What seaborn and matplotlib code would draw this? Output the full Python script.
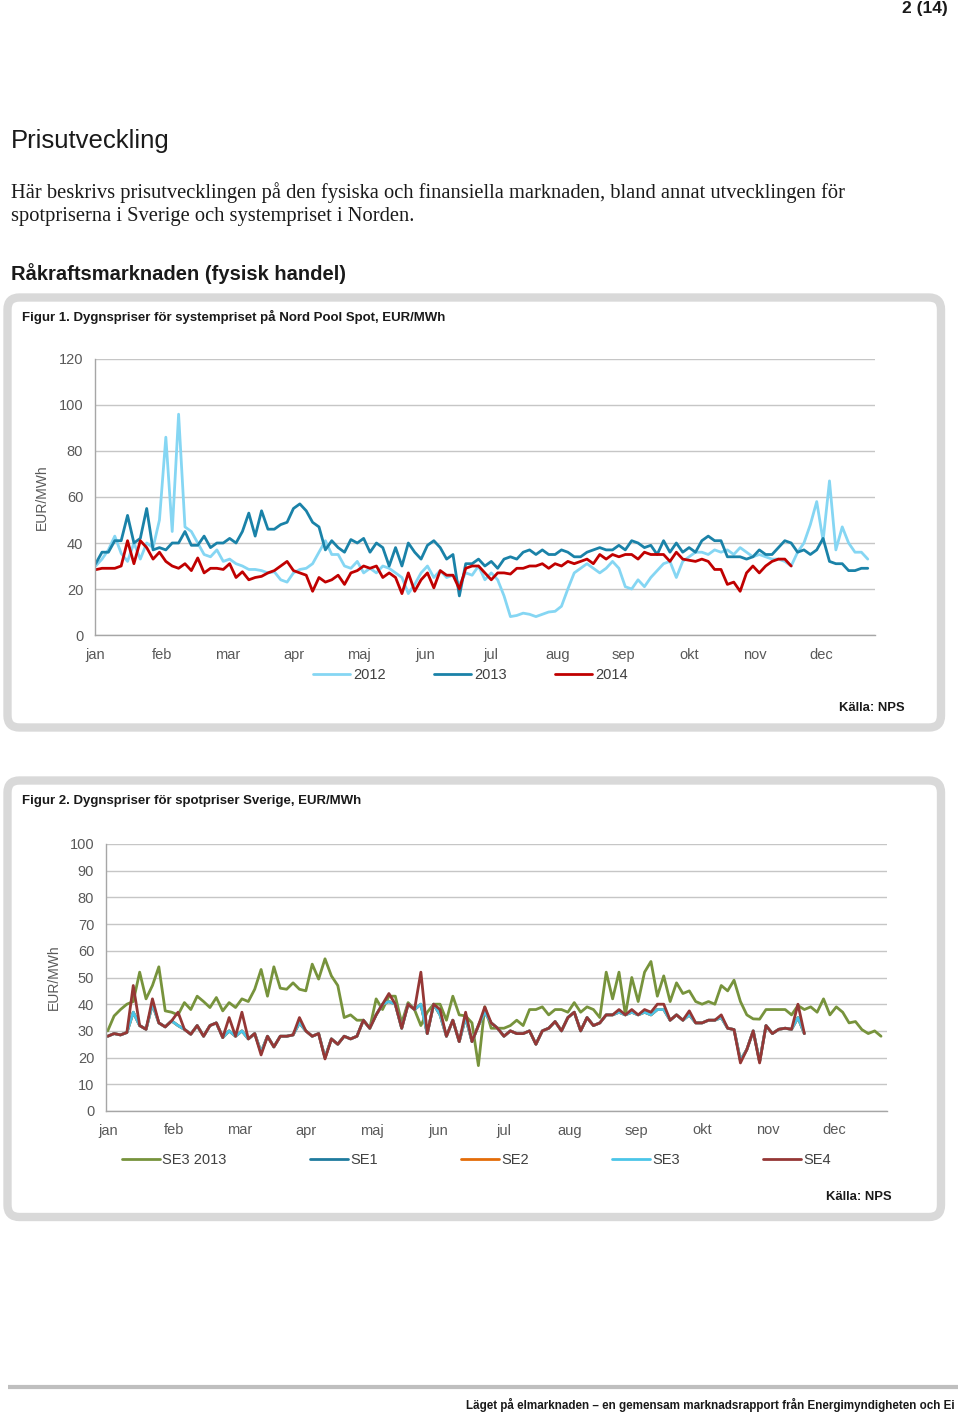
import numpy as np
import pandas as pd
import matplotlib
matplotlib.use("Agg")
import matplotlib.pyplot as plt
from matplotlib.patches import FancyBboxPatch
import seaborn as sns

sns.set_style("white")
plt.rcParams['font.family'] = ['Liberation Sans', 'DejaVu Sans']

# ---------------- data ----------------
MONTHS = ['jan', 'feb', 'mar', 'apr', 'maj', 'jun', 'jul', 'aug', 'sep', 'okt', 'nov', 'dec']
MONTH_DAYS = [0, 31, 62, 93, 124, 155, 186, 217, 248, 279, 310, 341]
STEP = 3  # one reading every third day

# Figur 1: system price, EUR/MWh
sys_2012 = [30, 33, 37, 43, 35.5, 32, 40, 33, 40, 38, 50, 86, 45, 96, 47, 45, 40, 35, 34, 37,
            32, 33, 31, 30, 28.5, 28.5, 28, 27, 27.5, 24, 23, 27, 28.5, 29, 31, 36, 41, 35, 35, 30,
            29, 32, 27, 29, 27, 30, 29, 27, 25, 18, 22, 27, 30, 25, 28, 25, 26, 22, 27, 26,
            30, 24, 27, 24, 17, 8, 8.5, 9.5, 9, 8, 9, 10, 10.3, 12.5, 20, 27, 29, 31, 29, 27,
            29, 32, 29, 21,
            20, 24, 21, 25, 28, 31, 32, 25, 32, 34, 36, 36, 35, 37, 36, 37, 35, 38, 36, 34,
            35, 34, 33, 33, 32, 30, 36, 40, 48, 58, 41, 67, 37, 47, 40, 36, 36, 33]
sys_2013 = [31, 36, 36, 41, 41, 52, 40, 42, 55, 37, 38, 37, 40, 40, 45, 39, 39, 43, 38, 40,
            40, 42, 40, 45, 53, 43, 54, 46, 46, 48, 49, 55, 57, 54, 49, 47, 37, 41, 38, 36,
            41.5, 40, 42, 36, 40, 38, 30, 38, 30, 40, 36, 33, 39, 41, 38, 33, 35, 17, 31, 31,
            33, 30, 32, 29, 33, 34, 33, 36, 37, 35, 37, 35, 35, 37, 36, 34, 34, 36, 37, 38,
            37, 37, 39, 37,
            41, 40, 38, 39, 35, 41, 36, 40, 36, 38, 36, 41, 43, 41, 41, 34, 34, 34, 33, 34,
            37, 35, 35, 38, 41, 40, 36, 37, 35, 37, 42, 32, 31, 31, 28, 28, 29, 29]
sys_2014 = [28.4, 29, 29, 29, 30, 41, 31, 41, 38, 33, 36, 32, 30, 29, 31, 28, 33.5, 27, 29, 29,
            28.5, 31, 25, 27.5, 24, 25, 25.5, 27, 28, 30, 32, 28, 27, 26, 19, 25, 23, 24, 26, 22,
            27, 28, 30, 29, 30, 25, 27, 25, 18, 27, 19, 24, 27, 20.5, 28, 26, 26, 20, 29, 30,
            30, 27, 24, 27, 27, 26.5, 29, 29, 30, 30, 31, 29, 31, 30, 32, 31, 32, 33, 31, 35,
            33, 35, 34, 35,
            35, 33, 36, 35, 35, 35, 32, 36, 33, 32.5, 32, 33, 32, 28.5, 28.5, 22, 23, 19, 27, 30,
            27, 30, 32, 33, 33, 30]

# Figur 2: Swedish spot prices, EUR/MWh
se3_2013 = [30, 35.6, 38, 40, 41, 52, 42, 47, 54, 37.5, 37, 36, 40.6, 38, 43, 41, 38.75, 42.5, 37.5, 40.6,
            38.75, 42, 41, 45.6, 53, 43, 54, 46, 45.6, 48, 45.6, 45, 55, 49.4, 57, 50.6, 47, 35, 36, 34,
            34, 31, 42, 38, 43, 43, 33, 40.6, 38, 32, 37, 40, 40, 34, 43, 36, 35.6, 33, 17, 39,
            31, 31, 31, 32, 34, 32, 38, 38, 39, 36, 38, 38, 37, 40.6, 37, 39, 38, 35, 52, 42,
            52, 36, 50, 41,
            52, 56, 43, 50.6, 41, 48, 44, 45, 41, 40, 41, 40, 47, 45, 49, 41, 36, 34.5, 34.4, 38,
            38, 38, 38, 36, 39.5, 38, 39, 37, 42, 36, 39, 37, 33, 33.5, 30.5, 29, 30, 28]
se1_se3_2014 = [28, 29, 28.5, 29.4, 37, 32, 30.6, 40, 33, 31.5, 33.75, 32, 30.6, 28.75, 32, 28, 32, 33, 27.5, 30,
                28, 30, 27, 29, 22, 28, 24, 28, 28, 28.5, 33, 30, 28, 29, 20, 27, 25, 28, 27, 28,
                34, 31, 36, 40, 41, 40, 31, 40, 38, 40, 29, 40, 36, 28, 34, 26, 35, 26, 32, 37,
                33, 31, 28, 30, 29, 29, 30, 25, 30, 31, 33.5, 30, 35, 37, 30, 35, 32, 33, 36, 36,
                37, 36, 37, 36,
                37, 36, 38, 38, 34, 36, 34, 36, 33, 33, 34, 34, 35, 31, 30.5, 19, 23, 30, 18.5, 32,
                29, 30.6, 31, 30.6, 35, 29]
se4_2014 = [28, 29, 28.5, 29.4, 47, 32, 30.6, 42, 33, 31.5, 33.75, 37, 30.6, 28.75, 32, 28, 32, 33, 27.5, 35,
            28, 37, 27, 29, 21, 28, 24, 28, 28, 28.5, 35, 30, 28, 29, 19.5, 27, 25, 28, 27, 28,
            34, 31, 36, 40, 44, 40, 31, 40, 38, 52, 29, 40, 38, 28, 34, 26, 37, 26, 32, 39,
            33, 31, 28, 30, 29, 29, 30, 25, 30, 31, 33.5, 30, 35, 37, 30, 35, 32, 33, 36, 36,
            38, 36, 38, 36,
            38, 37, 40, 40, 34, 36, 34, 37.5, 33, 33, 34, 34, 36, 31, 30.5, 18, 23, 30, 18, 32,
            29, 30.6, 31, 30.6, 40, 29]

def days_for(values):
    return np.arange(len(values)) * STEP

# ---------------- page ----------------
W, H = 960, 1415
fig = plt.figure(figsize=(W / 100, H / 100), dpi=100)
fig.patch.set_facecolor('white')

bg = fig.add_axes([0, 0, 1, 1])
bg.set_xlim(0, W)
bg.set_ylim(H, 0)
bg.axis('off')

TXT = '#1a1a1a'
SERIF = ['Liberation Serif', 'DejaVu Serif']
bg.text(948, 9, "2 (14)", ha='right', va='center', fontsize=12.5, fontweight='bold', color=TXT)
bg.text(11, 141, "Prisutveckling", ha='left', va='center', fontsize=18.5, color=TXT)
bg.text(11, 193, "Här beskrivs prisutvecklingen på den fysiska och finansiella marknaden, bland annat utvecklingen för",
        ha='left', va='center', fontsize=14.8, color=TXT, family=SERIF)
bg.text(11, 217, "spotpriserna i Sverige och systempriset i Norden.",
        ha='left', va='center', fontsize=14.8, color=TXT, family=SERIF)
bg.text(11, 274, "Råkraftsmarknaden (fysisk handel)", ha='left', va='center', fontsize=14.5,
        fontweight='bold', color=TXT)

BOX = '#d9d9d9'
for (x0, y0, x1, y1) in [(7.5, 297.5, 941, 727.5), (7.5, 780.5, 941, 1217)]:
    bg.add_patch(FancyBboxPatch((x0, y0), x1 - x0, y1 - y0,
                                boxstyle="round,pad=0,rounding_size=12",
                                linewidth=6, edgecolor=BOX, facecolor='white'))

bg.text(22, 317, "Figur 1. Dygnspriser för systempriset på Nord Pool Spot, EUR/MWh",
        ha='left', va='center', fontsize=9.5, fontweight='bold', color=TXT)
bg.text(22, 801, "Figur 2. Dygnspriser för spotpriser Sverige, EUR/MWh",
        ha='left', va='center', fontsize=9.5, fontweight='bold', color=TXT)
bg.text(905, 708, "Källa: NPS", ha='right', va='center', fontsize=9.4, fontweight='bold', color=TXT)
bg.text(892, 1197, "Källa: NPS", ha='right', va='center', fontsize=9.4, fontweight='bold', color=TXT)

bg.plot([8, 958], [1387, 1387], color='#bfbfbf', lw=3, solid_capstyle='butt')
bg.text(955, 1405, "Läget på elmarknaden – en gemensam marknadsrapport från Energimyndigheten och Ei",
        ha='right', va='center', fontsize=8.4, fontweight='bold', color=TXT)

GRID = '#c6c6c6'
AX = '#a6a6a6'
LBL = '#595959'


def style_axes(ax, ymax, ystep, xmin, xmax):
    ax.set_facecolor('none')
    ax.set_xlim(xmin, xmax)
    ax.set_ylim(0, ymax)
    ax.set_yticks(np.arange(0, ymax + 1, ystep))
    ax.set_xticks(MONTH_DAYS)
    ax.set_xticklabels(MONTHS)
    ax.yaxis.grid(True, color=GRID, lw=1.0)
    ax.xaxis.grid(False)
    for s in ['top', 'right']:
        ax.spines[s].set_visible(False)
    for s in ['left', 'bottom']:
        ax.spines[s].set_color(AX)
        ax.spines[s].set_linewidth(1.0)
    ax.tick_params(axis='both', which='both', direction='out', color=AX, width=1.0,
                   labelsize=10.5, labelcolor=LBL)
    ax.tick_params(axis='x', length=4, pad=5)
    ax.tick_params(axis='y', length=3.5, pad=5)
    ax.set_xlabel('')
    ax.set_ylabel('EUR/MWh', fontsize=10, color=LBL)


# ---------------- Figur 1 ----------------
ax1 = fig.add_axes([95 / W, 1 - 635 / H, 780 / W, 276 / H])
series1 = [("2012", sys_2012, '#85d6f3'),
           ("2013", sys_2013, '#1a82a8'),
           ("2014", sys_2014, '#c00000')]
for name, vals, col in series1:
    df = pd.DataFrame({'dag': days_for(vals), 'pris': vals})
    sns.lineplot(data=df, x='dag', y='pris', ax=ax1, color=col, linewidth=2.0, label=name)
style_axes(ax1, 120, 20, -0.3, 366.4)
ax1.yaxis.set_label_coords((49 - 95) / 780, 0.5)
h, l = ax1.get_legend_handles_labels()
ax1.legend(h, l, loc='center left', bbox_to_anchor=(313, 675), bbox_transform=bg.transData,
           ncol=3, frameon=False, fontsize=10.5, handlelength=2.55, handletextpad=0.2,
           columnspacing=3.3, borderpad=0, borderaxespad=0, labelcolor='#404040')

# ---------------- Figur 2 ----------------
ax2 = fig.add_axes([106 / W, 1 - 1111 / H, 781 / W, 267 / H])
series2 = [("SE3 2013", se3_2013, '#77933c'),
           ("SE1", se1_se3_2014, '#1f7b9e'),
           ("SE2", se1_se3_2014, '#e36c09'),
           ("SE3", se1_se3_2014, '#4bc5e8'),
           ("SE4", se4_2014, '#953735')]
for name, vals, col in series2:
    df = pd.DataFrame({'dag': days_for(vals), 'pris': vals})
    sns.lineplot(data=df, x='dag', y='pris', ax=ax2, color=col, linewidth=2.0, label=name)
style_axes(ax2, 100, 10, -0.8, 365.8)
ax2.yaxis.set_label_coords((61 - 106) / 781, 0.5)
h, l = ax2.get_legend_handles_labels()
ax2.legend(h, l, loc='center left', bbox_to_anchor=(122, 1160), bbox_transform=bg.transData,
           ncol=5, frameon=False, fontsize=10.5, handlelength=2.6, handletextpad=0.15,
           columnspacing=5.72, borderpad=0, borderaxespad=0, labelcolor='#404040')

fig.savefig("out.png", dpi=100, facecolor='white')
